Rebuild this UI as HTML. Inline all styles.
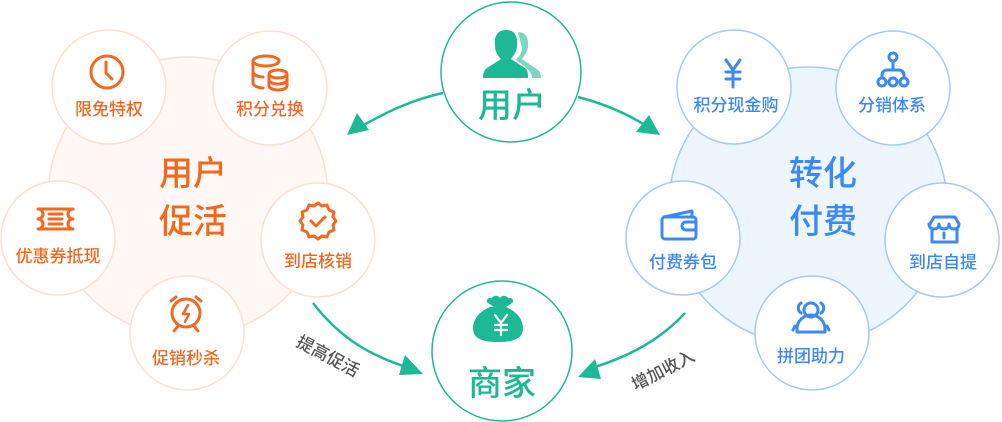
<!DOCTYPE html>
<html><head><meta charset="utf-8"><style>
html,body{margin:0;padding:0;background:#fff;}
svg{display:block;}
text{font-family:"Liberation Sans","Noto Sans CJK SC",sans-serif;font-weight:500;}
</style></head><body>
<svg width="1002" height="422" viewBox="0 0 1002 422" xmlns="http://www.w3.org/2000/svg">
<circle cx="188" cy="197" r="140" fill="#fff8f5" stroke="#fde0d2" stroke-width="1.5"/>
<g fill="#fff" stroke="#fde0d2" stroke-width="1.5">
<circle cx="109" cy="87" r="57"/><circle cx="270" cy="88" r="57"/>
<circle cx="58" cy="238" r="57"/><circle cx="318" cy="240" r="57"/>
<circle cx="187" cy="333" r="57"/>
</g>
<g fill="#f5671f" font-size="17" text-anchor="middle">
<text x="109" y="115">限免特权</text><text x="270" y="115">积分兑换</text>
<text x="58" y="262">优惠券抵现</text><text x="318" y="267">到店核销</text>
<text x="186" y="364">促销秒杀</text>
</g>
<g fill="#f5671f" font-size="34" text-anchor="middle">
<text x="193" y="185">用户</text><text x="193" y="233">促活</text>
</g>
<g fill="none" stroke="#f5671f" stroke-width="3" stroke-linecap="round" stroke-linejoin="round">
<circle cx="107" cy="72" r="16"/><path d="M106 62v11l6 6"/>
<ellipse cx="266" cy="61" rx="13" ry="5"/><path d="M253 61v22c0 3 6 5 10 5M253 72c0 3 6 5 10 5"/>
<ellipse cx="278" cy="74" rx="9" ry="4"/><path d="M269 74v12c0 2 4 4 9 4s9-2 9-4V74M269 80c0 2 4 4 9 4s9-2 9-4"/>
<path d="M38 209h35a4 4 0 0 0 0 10a4 4 0 0 0 0 10H38a4 4 0 0 0 0-10a4 4 0 0 0 0-10zM49 214h13M49 219h13M49 224h13"/>
<path d="M318 203l4 3 5-1 2 5 5 2-1 5 3 4-3 4 1 5-5 2-2 5-5-1-4 3-4-3-5 1-2-5-5-2 1-5-3-4 3-4-1-5 5-2 2-5 5 1z"/>
<path d="M311 221l5 5 9-9"/>
<circle cx="186" cy="313" r="14"/><path d="M176 297l-5 4M196 297l5 4M178 326l-4 5M194 326l4 5"/>
<path d="M188 305l-5 9h6l-4 8" stroke-width="2.5"/>
</g>
<circle cx="808" cy="206" r="139" fill="#edf5ff" stroke="#a6c9fa" stroke-width="1.5"/>
<g fill="#fff" stroke="#a6c9fa" stroke-width="1.5">
<circle cx="734" cy="87" r="57"/><circle cx="893" cy="88" r="57"/>
<circle cx="683" cy="238" r="57"/><circle cx="942" cy="240" r="57"/>
<circle cx="812" cy="333" r="57"/>
</g>
<g fill="#3c88f5" font-size="17" text-anchor="middle">
<text x="736" y="111">积分现金购</text><text x="892" y="111">分销体系</text>
<text x="683" y="268">付费券包</text><text x="943" y="268">到店自提</text>
<text x="811" y="362">拼团助力</text>
</g>
<g fill="#3c88f5" font-size="34" text-anchor="middle">
<text x="823" y="185">转化</text><text x="823" y="233">付费</text>
</g>
<g fill="none" stroke="#3c88f5" stroke-width="3" stroke-linecap="round" stroke-linejoin="round">
<path d="M726 60l7 10 7-10M733 70v17M726 72h14M726 79h14"/>
<circle cx="893" cy="57" r="4"/><path d="M893 61v9M882 78v-3a5 5 0 0 1 5-5h12a5 5 0 0 1 5 5v3"/>
<circle cx="882" cy="82" r="4"/><circle cx="893" cy="82" r="4"/><circle cx="904" cy="82" r="4"/>
<path d="M664 217l28-6v6"/><rect x="662" y="217" width="34" height="22" rx="3"/><path d="M696 222h-10a4 4 0 0 0 0 8h10"/>
<path d="M930 224l4-7h21l4 7c0 4-3 5-5 5s-5-1-5-5c0 4-3 5-5 5s-5-1-5-5c0 4-3 5-5 5s-5-1-5-5zM932 229v13h25v-13M944 233v5"/>
<circle cx="811" cy="310" r="7"/><path d="M797 332v-3a14 14 0 0 1 28 0v3zM801 303a6 6 0 0 0 0 10M821 303a6 6 0 0 1 0 10M795 326l-2 4M827 326l2 4"/>
</g>
<circle cx="511" cy="72" r="70" fill="#fff" stroke="#1db995" stroke-width="1.5"/>
<circle cx="502" cy="351" r="70" fill="#fff" stroke="#1db995" stroke-width="1.5"/>
<path d="M518 32c8 0 11 7 10 15-1 6-4 9-6 12l16 11c3 3 3 8 3 8h-9c0-5-3-8-8-12l-8-6c3-3 6-8 6-12z" fill="#7dd6c0"/>
<path d="M506 30c9 0 12 7 11 15 0 7-4 11-6 14l14 9c3 2 3 6 3 10h-45c0-4 1-8 4-10l14-9c-3-3-6-7-6-14-1-8 2-15 11-15z" fill="#1db995"/>
<g fill="#1db995" font-size="34" text-anchor="middle">
<text x="512" y="117">用户</text><text x="502" y="395">商家</text>
</g>
<path d="M494 307l-6-4c-3-2 0-6 4-5 2-3 6-3 8 0 2-3 6-3 8 0 4-1 7 3 4 5l-6 4c10 4 17 12 17 21 0 10-8 14-25 14s-25-4-25-14c0-9 7-17 17-21z" fill="#1db995"/>
<g stroke="#fff" stroke-width="2.2" fill="none" stroke-linecap="round"><path d="M495 315l6 8 6-8M501 323v12M495 325h12M495 330h12"/></g>
<g fill="none" stroke="#1db995" stroke-width="2.5">
<path d="M443 93C415 99 390 110 362 126"/>
<path d="M578 97C605 104 628 114 648 127"/>
<path d="M313 303C340 338 370 356 410 368"/>
<path d="M685 313C660 340 630 356 592 368"/>
</g>
<g fill="#1db995">
<path d="M347 135l10-22 12 17z"/>
<path d="M660 135l-24-3 13-17z"/>
<path d="M423 374l-24 1 6-20z"/>
<path d="M578 377l17-18 6 20z"/>
</g>
<g fill="#555" font-size="17" font-weight="400" text-anchor="middle">
<text x="328" y="362" transform="rotate(28 328 356)">提高促活</text>
<text x="663" y="376" transform="rotate(-27 663 370)">增加收入</text>
</g>
</svg>
</body></html>
